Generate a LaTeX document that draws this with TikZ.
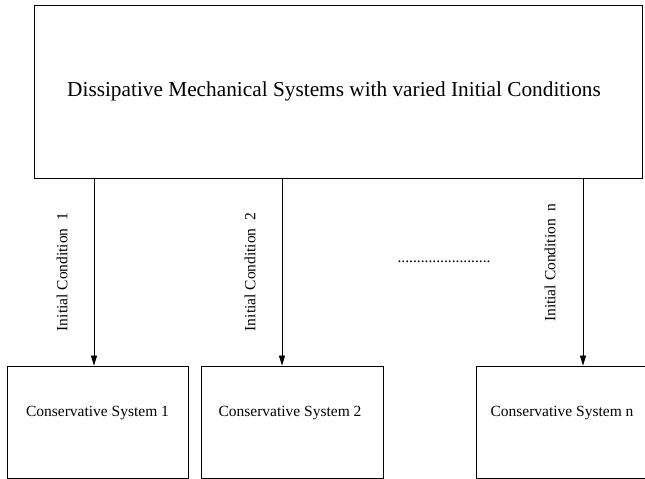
\documentclass[tikz,border=0pt]{standalone}
\usepackage{fontspec}
\setmainfont{Liberation Serif}
\usetikzlibrary{arrows.meta}
\newcommand{\smallfont}{\fontsize{15.5}{18}\selectfont}
\begin{document}
\begin{tikzpicture}[x=1pt,y=-1pt, line width=0.8pt,
  sysbox/.style={draw, minimum width=182pt, minimum height=112pt, inner sep=0pt},
  cond/.style={rotate=90, font=\smallfont},
  flow/.style={-{Triangle[length=10pt,width=6pt]}, line width=0.7pt}]
\useasboundingbox (0,0) rectangle (645,479);
\clip (0,0) rectangle (645,479);

\node[draw, minimum width=608pt, minimum height=173pt, inner sep=0pt, font=\fontsize{21.3}{24}\selectfont](D) at (338,91.5) {\hspace*{-8pt}Dissipative Mechanical Systems with varied Initial Conditions};

\node[sysbox, minimum width=181pt, label={[yshift=9pt, font=\smallfont]center:Conservative System 1}](C1) at (97.5,422) {};
\node[sysbox, label={[yshift=9pt, xshift=-2pt, font=\smallfont]center:Conservative System 2}](C2) at (292,422) {};
\node[sysbox, label={[yshift=9pt, xshift=-5pt, font=\smallfont]center:Conservative System n}](Cn) at (567,422) {};

\node[font=\smallfont](dots) at (444,262) {........................};

\draw[flow] (D.south -| C1.north) ++(-3.5,0) -- ([xshift=-3.5pt]C1.north) node[midway, xshift=-32pt, cond] {Initial Condition~~1};
\draw[flow] (D.south -| C2.north) ++(-10,0) -- ([xshift=-10pt]C2.north) node[midway, xshift=-32pt, cond] {Initial Condition~~2};
\draw[flow] (D.south -| Cn.north) ++(16,0) -- ([xshift=16pt]Cn.north) node[pos=.45, xshift=-33pt, cond] {Initial Condition~~n};

\end{tikzpicture}
\end{document}
